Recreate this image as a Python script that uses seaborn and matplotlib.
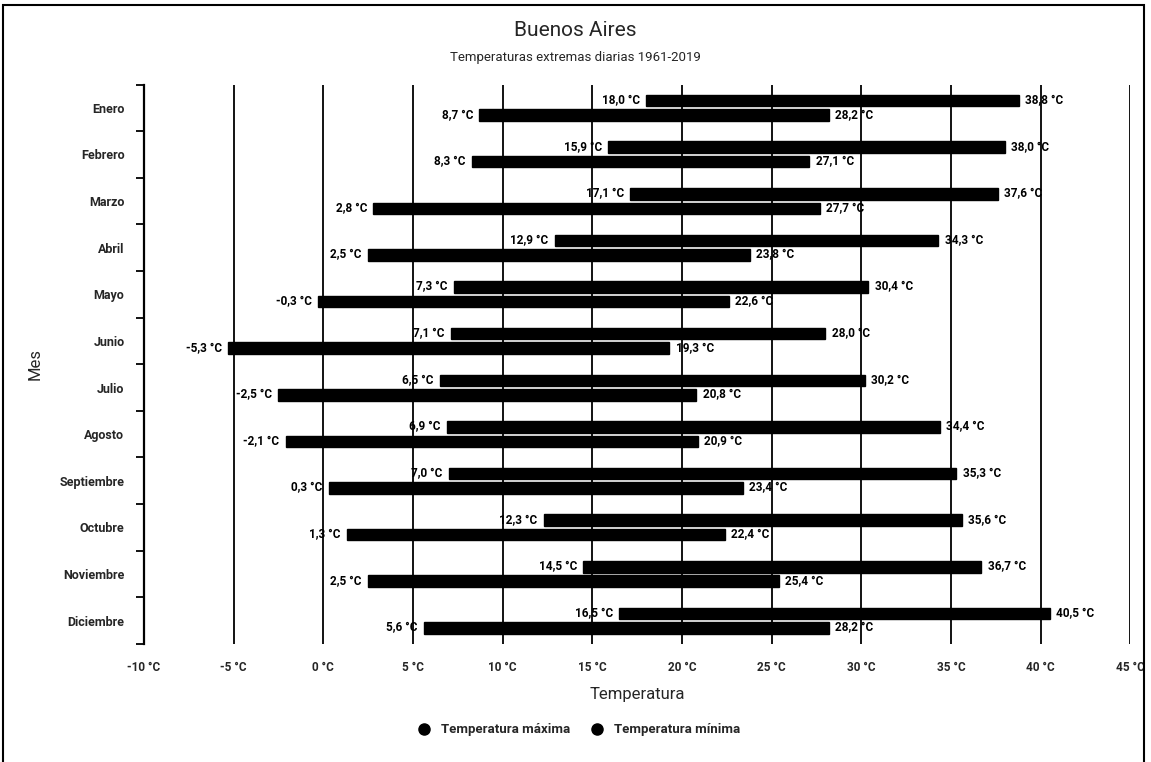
import matplotlib
matplotlib.use('Agg')
import matplotlib.pyplot as plt
from matplotlib.lines import Line2D
from matplotlib.patches import Rectangle
from matplotlib.ticker import FixedLocator
import pandas as pd
import seaborn as sns

MONTHS = ['Enero', 'Febrero', 'Marzo', 'Abril', 'Mayo', 'Junio', 'Julio',
          'Agosto', 'Septiembre', 'Octubre', 'Noviembre', 'Diciembre']

# range of the daily maximum temperature (lowest, highest)
MAX_LOW = [18.0, 15.9, 17.1, 12.9, 7.3, 7.1, 6.5, 6.9, 7.0, 12.3, 14.5, 16.5]
MAX_HIGH = [38.8, 38.0, 37.6, 34.3, 30.4, 28.0, 30.2, 34.4, 35.3, 35.6, 36.7, 40.5]

# range of the daily minimum temperature (lowest, highest)
MIN_LOW = [8.7, 8.3, 2.8, 2.5, -0.3, -5.3, -2.5, -2.1, 0.3, 1.3, 2.5, 5.6]
MIN_HIGH = [28.2, 27.1, 27.7, 23.8, 22.6, 19.3, 20.8, 20.9, 23.4, 22.4, 25.4, 28.2]

SERIES = ['Temperatura máxima', 'Temperatura mínima']
X_TICKS = list(range(-10, 50, 5))


def fmt(v):
    return f'{v:.1f}'.replace('.', ',') + ' °C'


sns.set_style('white')
plt.rcParams['font.family'] = ['Roboto', 'DejaVu Sans']

df = pd.DataFrame({
    'mes': MONTHS * 2,
    'serie': [SERIES[0]] * 12 + [SERIES[1]] * 12,
    'desde': MAX_LOW + MIN_LOW,
    'hasta': MAX_HIGH + MIN_HIGH,
})

fig = plt.figure(figsize=(11.51, 7.62), dpi=100)
ax = fig.add_axes([0.125, 0.155, 0.857, 0.734])

sns.barplot(data=df, x='hasta', y='mes', hue='serie', orient='h',
            palette=['black', 'black'], width=0.62, gap=0.2, order=MONTHS,
            hue_order=SERIES, legend=False, ax=ax)

# turn the bars into floating ranges and label both ends
for container, serie in zip(ax.containers, SERIES):
    sub = df[df['serie'] == serie].set_index('mes').loc[MONTHS]
    for bar, (_, row) in zip(container, sub.iterrows()):
        bar.set_x(row['desde'])
        bar.set_width(row['hasta'] - row['desde'])
        bar.set_edgecolor('black')
        yc = bar.get_y() + bar.get_height() / 2
        ax.text(row['desde'] - 0.35, yc, fmt(row['desde']), ha='right',
                va='center', fontsize=8.5, fontweight='bold', color='black')
        ax.text(row['hasta'] + 0.35, yc, fmt(row['hasta']), ha='left',
                va='center', fontsize=8.5, fontweight='bold', color='black')

ax.set_xlim(-10, 45)
ax.set_ylim(11.5, -0.5)
ax.set_xticks(X_TICKS)
ax.set_xticklabels([f'{t} °C' for t in X_TICKS], fontsize=8.5, fontweight='bold')
ax.tick_params(axis='x', length=0, pad=12)
ax.grid(axis='x', color='black', linewidth=1.3)
ax.set_axisbelow(True)

ax.yaxis.set_minor_locator(FixedLocator([i - 0.5 for i in range(13)]))
ax.tick_params(axis='y', which='major', length=0, pad=14, labelsize=9)
ax.tick_params(axis='y', which='minor', length=6, width=1.3, color='black', left=True)
for lab in ax.get_yticklabels():
    lab.set_fontweight('bold')

for side in ['top', 'right', 'bottom']:
    ax.spines[side].set_visible(False)
ax.spines['left'].set_color('black')
ax.spines['left'].set_linewidth(1.6)

ax.set_xlabel('Temperatura', fontsize=12, labelpad=10)
ax.set_ylabel('Mes', fontsize=12, labelpad=12)

fig.text(0.5, 0.960, 'Buenos Aires', ha='center', va='center', fontsize=15)
fig.text(0.5, 0.924, 'Temperaturas extremas diarias 1961-2019', ha='center',
         va='center', fontsize=9.5)

handles = [Line2D([], [], marker='o', linestyle='', color='black', markersize=8)
           for _ in SERIES]
fig.legend(handles, SERIES, loc='center', bbox_to_anchor=(0.5, 0.042),
           ncol=2, frameon=False, handletextpad=0.3, columnspacing=1.0,
           prop={'weight': 'bold', 'size': 9.5})

# scanned page frame
fig.add_artist(Rectangle((0.003, -0.05), 0.991, 1.043, transform=fig.transFigure,
                         fill=False, edgecolor='black', linewidth=1.5))

fig.savefig('out.png', dpi=100)
